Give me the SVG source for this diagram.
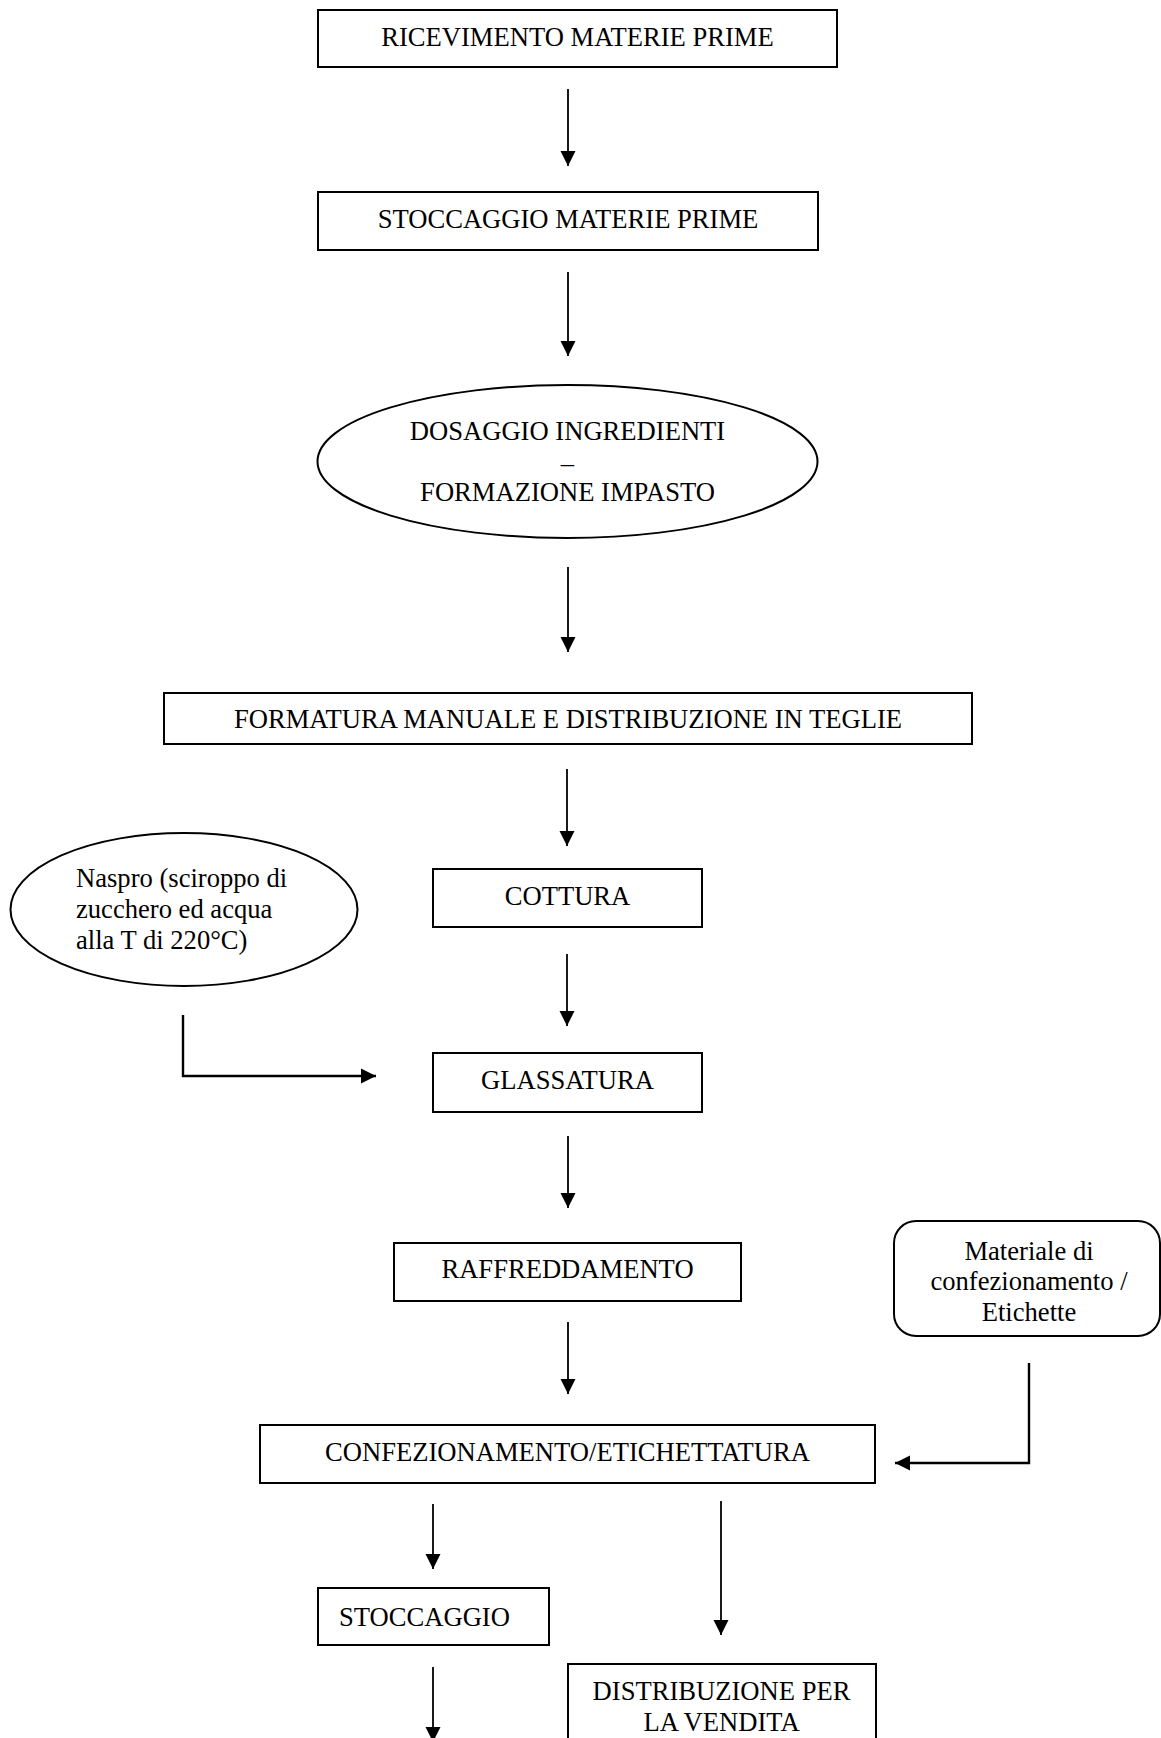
<svg xmlns="http://www.w3.org/2000/svg" width="1161" height="1738" viewBox="0 0 1161 1738">
  <style>
    .box { fill: #ffffff; stroke: #000000; stroke-width: 2; }
    .lbl { font-family: "Liberation Serif", "Times New Roman", serif; font-size: 26.6px; fill: #000000; text-anchor: middle; }
    .left { text-anchor: start; }
    .conn { fill: none; stroke: #000000; stroke-width: 1.8; }
    .conn-thick { fill: none; stroke: #000000; stroke-width: 2.4; }
  </style>
  <defs>
    <marker id="arrow" markerWidth="16" markerHeight="16" refX="15" refY="8" orient="auto" markerUnits="userSpaceOnUse">
      <path d="M0,0.5 L15,8 L0,15.5 z" fill="#000000"/>
    </marker>
  </defs>
  <rect width="1161" height="1738" fill="#ffffff"/>

  <!-- process steps -->
  <g id="ricevimento">
    <rect class="box" x="318" y="10" width="519" height="57"/>
    <text class="lbl" x="577.5" y="46">RICEVIMENTO MATERIE PRIME</text>
  </g>
  <g id="stoccaggio-mp">
    <rect class="box" x="318" y="192" width="500" height="58"/>
    <text class="lbl" x="568" y="228">STOCCAGGIO MATERIE PRIME</text>
  </g>
  <g id="dosaggio">
    <ellipse class="box" cx="567.5" cy="461.5" rx="250" ry="76.5"/>
    <text class="lbl" x="567.5" y="440">DOSAGGIO INGREDIENTI</text>
    <text class="lbl" x="567.5" y="472">–</text>
    <text class="lbl" x="567.5" y="501">FORMAZIONE IMPASTO</text>
  </g>
  <g id="formatura">
    <rect class="box" x="164" y="693" width="808" height="51"/>
    <text class="lbl" x="568" y="728">FORMATURA MANUALE E DISTRIBUZIONE IN TEGLIE</text>
  </g>
  <g id="naspro">
    <ellipse class="box" cx="184" cy="909.5" rx="173.5" ry="76.5"/>
    <text class="lbl left" x="76" y="887">Naspro (sciroppo di</text>
    <text class="lbl left" x="76" y="918">zucchero ed acqua</text>
    <text class="lbl left" x="76" y="949">alla T di 220°C)</text>
  </g>
  <g id="cottura">
    <rect class="box" x="433" y="869" width="269" height="58"/>
    <text class="lbl" x="567.5" y="905">COTTURA</text>
  </g>
  <g id="glassatura">
    <rect class="box" x="433" y="1053" width="269" height="59"/>
    <text class="lbl" x="567.5" y="1089">GLASSATURA</text>
  </g>
  <g id="raffreddamento">
    <rect class="box" x="394" y="1243" width="347" height="58"/>
    <text class="lbl" x="567.5" y="1278">RAFFREDDAMENTO</text>
  </g>
  <g id="materiale">
    <rect class="box" x="894" y="1221" width="266" height="115" rx="22" ry="22"/>
    <text class="lbl" x="1029" y="1260">Materiale di</text>
    <text class="lbl" x="1029" y="1290">confezionamento /</text>
    <text class="lbl" x="1029" y="1321">Etichette</text>
  </g>
  <g id="confezionamento">
    <rect class="box" x="260" y="1425" width="615" height="58"/>
    <text class="lbl" x="567.5" y="1461">CONFEZIONAMENTO/ETICHETTATURA</text>
  </g>
  <g id="stoccaggio">
    <rect class="box" x="318" y="1588" width="231" height="57"/>
    <text class="lbl left" x="339" y="1626">STOCCAGGIO</text>
  </g>
  <g id="distribuzione">
    <rect class="box" x="568" y="1664" width="308" height="100"/>
    <text class="lbl" x="721.5" y="1700">DISTRIBUZIONE PER</text>
    <text class="lbl" x="721.5" y="1731">LA VENDITA</text>
  </g>

  <!-- flow connectors -->
  <g id="connectors">
    <path class="conn" d="M568,89 V166" marker-end="url(#arrow)"/>
    <path class="conn" d="M568,272 V356" marker-end="url(#arrow)"/>
    <path class="conn" d="M568,567 V652" marker-end="url(#arrow)"/>
    <path class="conn" d="M567,769 V846" marker-end="url(#arrow)"/>
    <path class="conn" d="M567,954 V1026" marker-end="url(#arrow)"/>
    <path class="conn-thick" d="M183,1015 V1076 H376" marker-end="url(#arrow)"/>
    <path class="conn" d="M568,1136 V1208" marker-end="url(#arrow)"/>
    <path class="conn" d="M568,1322 V1394" marker-end="url(#arrow)"/>
    <path class="conn-thick" d="M1029,1363 V1463 H895" marker-end="url(#arrow)"/>
    <path class="conn" d="M433,1504 V1569" marker-end="url(#arrow)"/>
    <path class="conn" d="M721,1501 V1635" marker-end="url(#arrow)"/>
    <path class="conn" d="M433,1667 V1742" marker-end="url(#arrow)"/>
  </g>
</svg>
